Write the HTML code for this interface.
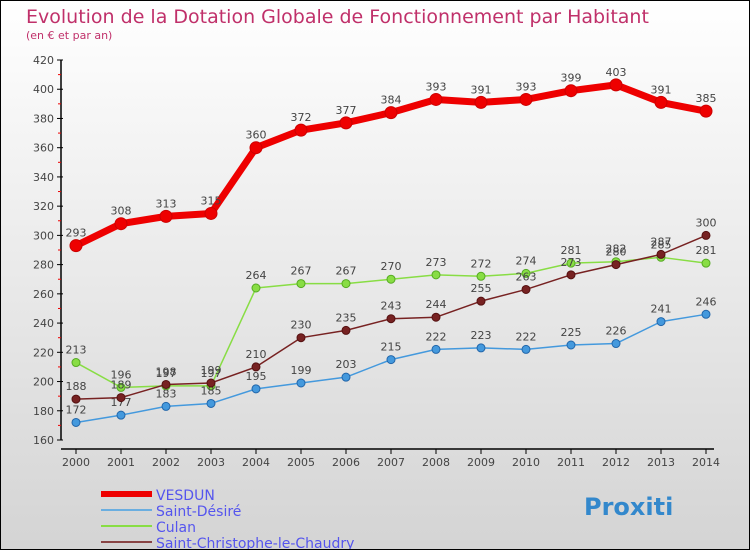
<!DOCTYPE html>
<html><head><meta charset="utf-8"><style>
body{margin:0}
#c{width:748px;height:548px;border:1px solid #000;background:linear-gradient(#fff,#d4d4d4);position:relative;font-family:"DejaVu Sans","Liberation Sans",sans-serif}
svg{position:absolute;left:0;top:0}
</style></head><body>
<div id="c">
<svg id="s" width="748" height="548" xmlns="http://www.w3.org/2000/svg">
<text x="25" y="22" font-size="19" fill="#c0306a">Evolution de la Dotation Globale de Fonctionnement par Habitant</text>
<text x="25" y="38" font-size="11" fill="#c0306a">(en € et par an)</text>
</svg>
</div>
<script>
const years=[2000,2001,2002,2003,2004,2005,2006,2007,2008,2009,2010,2011,2012,2013,2014];
const vesdun=[293,308,313,315,360,372,377,384,393,391,393,399,403,391,385];
const saintDesire=[172,177,183,185,195,199,203,215,222,223,222,225,226,241,246];
const culan=[213,196,197,197,264,267,267,270,273,272,274,281,282,285,281];
const saintChristophe=[188,189,198,199,210,230,235,243,244,255,263,273,280,287,300];
const yTicks=[160,180,200,220,240,260,280,300,320,340,360,380,400,420];
const NS="http://www.w3.org/2000/svg";
const s=document.getElementById('s');
const X=i=>75+i*45;
const Y=v=>59+(420-v)*380/260;
function el(t,a){const e=document.createElementNS(NS,t);for(const k in a)e.setAttribute(k,a[k]);s.appendChild(e);return e;}
let ax=el('line',{x1:60,y1:Y(420),x2:60,y2:Y(160),stroke:'#000','stroke-width':1.5});


let xa=el('line',{x1:60,y1:448,x2:X(14)+8,y2:448,stroke:'#000','stroke-width':1.5});


yTicks.forEach(v=>{
  el('line',{x1:56,y1:Y(v),x2:62,y2:Y(v),stroke:'#000'});
  if(v<420)el('line',{x1:57,y1:Y(v+10),x2:60,y2:Y(v+10),stroke:'#e00'});
  const t=el('text',{x:53,y:Y(v)+4,'font-size':11,fill:'#444','text-anchor':'end'});
  t.textContent=v;
  
  
});
years.forEach((yr,i)=>{
  el('line',{x1:X(i),y1:448,x2:X(i),y2:453,stroke:'#000'});
  const t=el('text',{x:X(i),y:465,'font-size':11,fill:'#444','text-anchor':'middle'});
  t.textContent=yr;
  
  
});
function series(data,color,width,r,name,dark){
  const p=el('polyline',{points:data.map((v,i)=>X(i)+','+Y(v)).join(' '),fill:'none',stroke:color,'stroke-width':width,'stroke-linejoin':'round'});
  
  
  data.forEach((v,i)=>{
    const c=el('circle',{cx:X(i),cy:Y(v),r:r,fill:color,stroke:dark,'stroke-width':1});
    
    
    const t=el('text',{x:X(i),y:Y(v)-9,'font-size':11,fill:'#444','text-anchor':'middle'});
    t.textContent=v;
    
    
  });
}
series(culan,'#88dd44',1.5,4,'culan','#55aa22');
series(saintDesire,'#4499dd',1.5,4,'saint-desire','#2266aa');
series(saintChristophe,'#772222',1.5,4,'saint-christophe','#551111');
series(vesdun,'#ee0000',7,6,'vesdun','#cc0000');
const leg=[['VESDUN','#ee0000',6],['Saint-Désiré','#6aaee0',2],['Culan','#88dd44',2],['Saint-Christophe-le-Chaudry','#884444',2]];
leg.forEach((l,i)=>{
  const y=493+i*16;
  const ln=el('line',{x1:100,y1:y,x2:151,y2:y,stroke:l[1],'stroke-width':l[2]});
  
  
  const t=el('text',{x:155,y:y+6,'font-size':14,fill:'#5555ee'});
  t.textContent=l[0];
  
  
});
const pr=el('text',{x:583,y:514,'font-size':24,'font-weight':'bold',fill:'#3388cc'});
pr.textContent='Proxiti';


</script>
</body></html>
